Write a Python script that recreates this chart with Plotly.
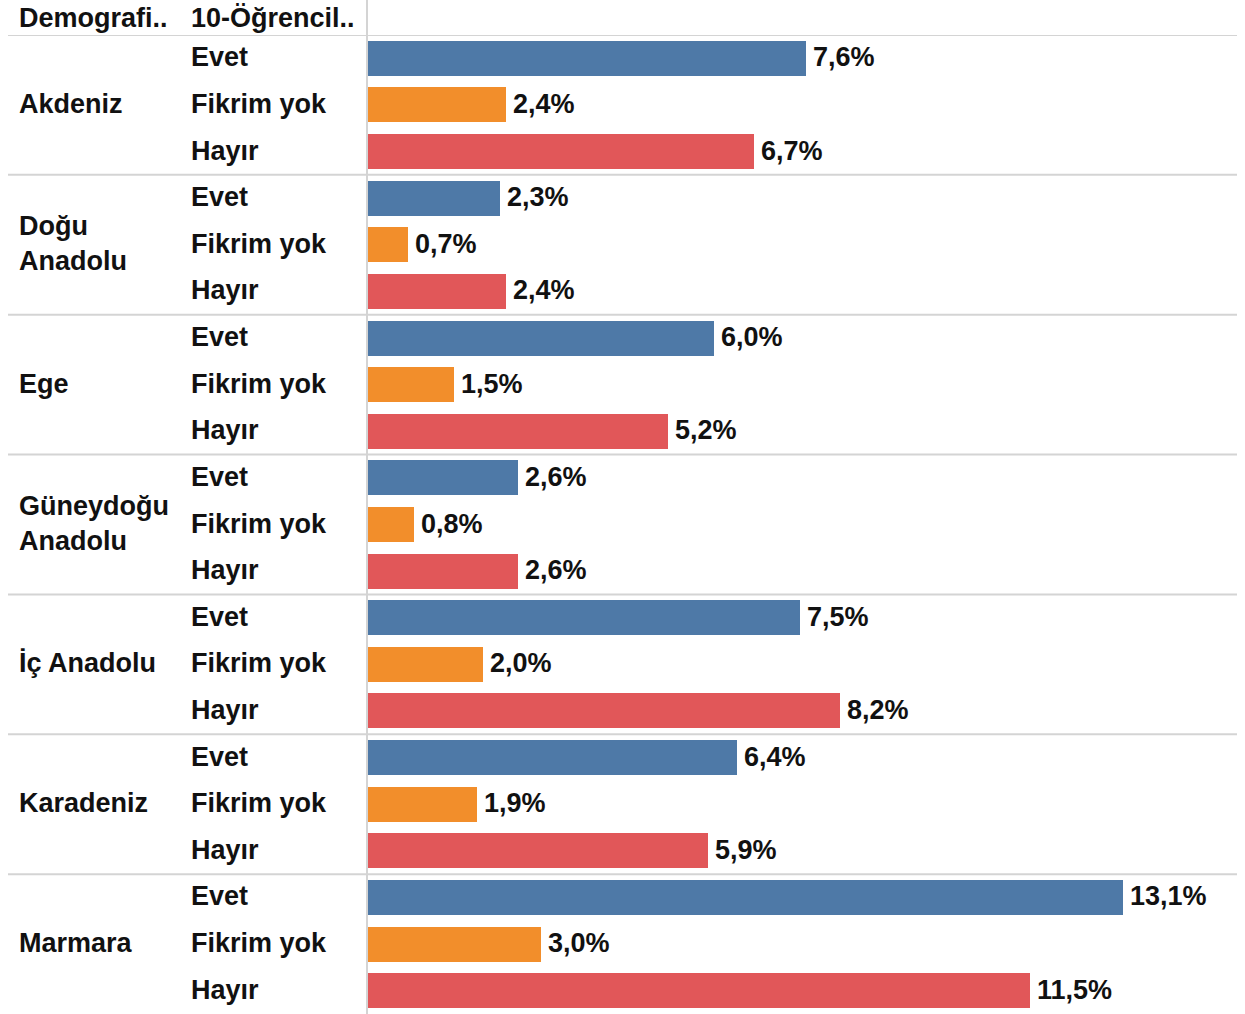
import plotly.graph_objects as go

regions = ["Akdeniz", "Doğu<br>Anadolu", "Ege", "Güneydoğu<br>Anadolu", "İç Anadolu", "Karadeniz", "Marmara"]
responses = ["Evet", "Fikrim yok", "Hayır"]
evet = [7.6, 2.3, 6.0, 2.6, 7.5, 6.4, 13.1]
fikrim_yok = [2.4, 0.7, 1.5, 0.8, 2.0, 1.9, 3.0]
hayir = [6.7, 2.4, 5.2, 2.6, 8.2, 5.9, 11.5]
header_labels = ["Demografi..", "10-Öğrencil.."]
colors = {"Evet": "#4E79A7", "Fikrim yok": "#F28E2B", "Hayır": "#E15759"}

W, H = 1245, 1014
x0_px, x1_px = 368, 1237
px_per_unit = 57.6
header_px = 35
n_rows = len(regions) * len(responses)

series = {"Evet": evet, "Fikrim yok": fikrim_yok, "Hayır": hayir}
fig = go.Figure()
font = dict(family="Liberation Sans, Arial, sans-serif", size=27, color="#111111")

annotations = []
for j, resp in enumerate(responses):
    ys = [i * 3 + j for i in range(len(regions))]
    vals = series[resp]
    fig.add_trace(go.Bar(
        x=vals, y=ys, orientation="h", width=0.75,
        marker=dict(color=colors[resp], line=dict(width=0)),
        name=resp, showlegend=False, hoverinfo="x+y",
    ))
    for y, v in zip(ys, vals):
        annotations.append(dict(
            x=v, y=y, xref="x", yref="y", text="<b>" + f"{v:.1f}".replace(".", ",") + "%</b>",
            showarrow=False, xanchor="left", yanchor="middle", xshift=5, yshift=1, font=font,
        ))
        annotations.append(dict(
            x=189 / W, y=y, xref="paper", yref="y", text="<b>" + resp + "</b>",
            showarrow=False, xanchor="left", yanchor="middle", yshift=1, font=font,
        ))

for i, reg in enumerate(regions):
    annotations.append(dict(
        x=17 / W, y=i * 3 + 1, xref="paper", yref="y", text="<b>" + reg + "</b>",
        showarrow=False, xanchor="left", yanchor="middle", align="left", yshift=1, font=font,
    ))

for k, hl in enumerate(header_labels):
    annotations.append(dict(
        x=[17, 189][k] / W, y=1 - 18 / H, xref="paper", yref="paper", text="<b>" + hl + "</b>",
        showarrow=False, xanchor="left", yanchor="middle", font=font,
    ))

shapes = []
for i in range(len(regions)):
    yb = i * 3 - 0.5
    shapes.append(dict(type="line", xref="paper", yref="y", x0=8 / W, x1=x1_px / W, y0=yb, y1=yb,
                       line=dict(color="#D4D4D4", width=2), layer="above"))
shapes.append(dict(type="line", xref="paper", yref="paper", x0=367 / W, x1=367 / W, y0=0, y1=1,
                   line=dict(color="#D4D4D4", width=2), layer="below"))

fig.update_layout(
    width=W, height=H, margin=dict(l=0, r=0, t=0, b=0),
    paper_bgcolor="white", plot_bgcolor="white",
    barmode="overlay", bargap=0,
    xaxis=dict(domain=[x0_px / W, x1_px / W], range=[0, (x1_px - x0_px) / px_per_unit],
               showgrid=False, zeroline=False, showticklabels=False, ticks=""),
    yaxis=dict(domain=[0, 1 - header_px / H], range=[n_rows - 0.5, -0.5],
               showgrid=False, zeroline=False, showticklabels=False, ticks=""),
    annotations=annotations, shapes=shapes,
)

fig.write_html("out.html", config={"displayModeBar": False},
               post_script="document.body.style.margin='0';document.body.style.overflow='hidden';")
